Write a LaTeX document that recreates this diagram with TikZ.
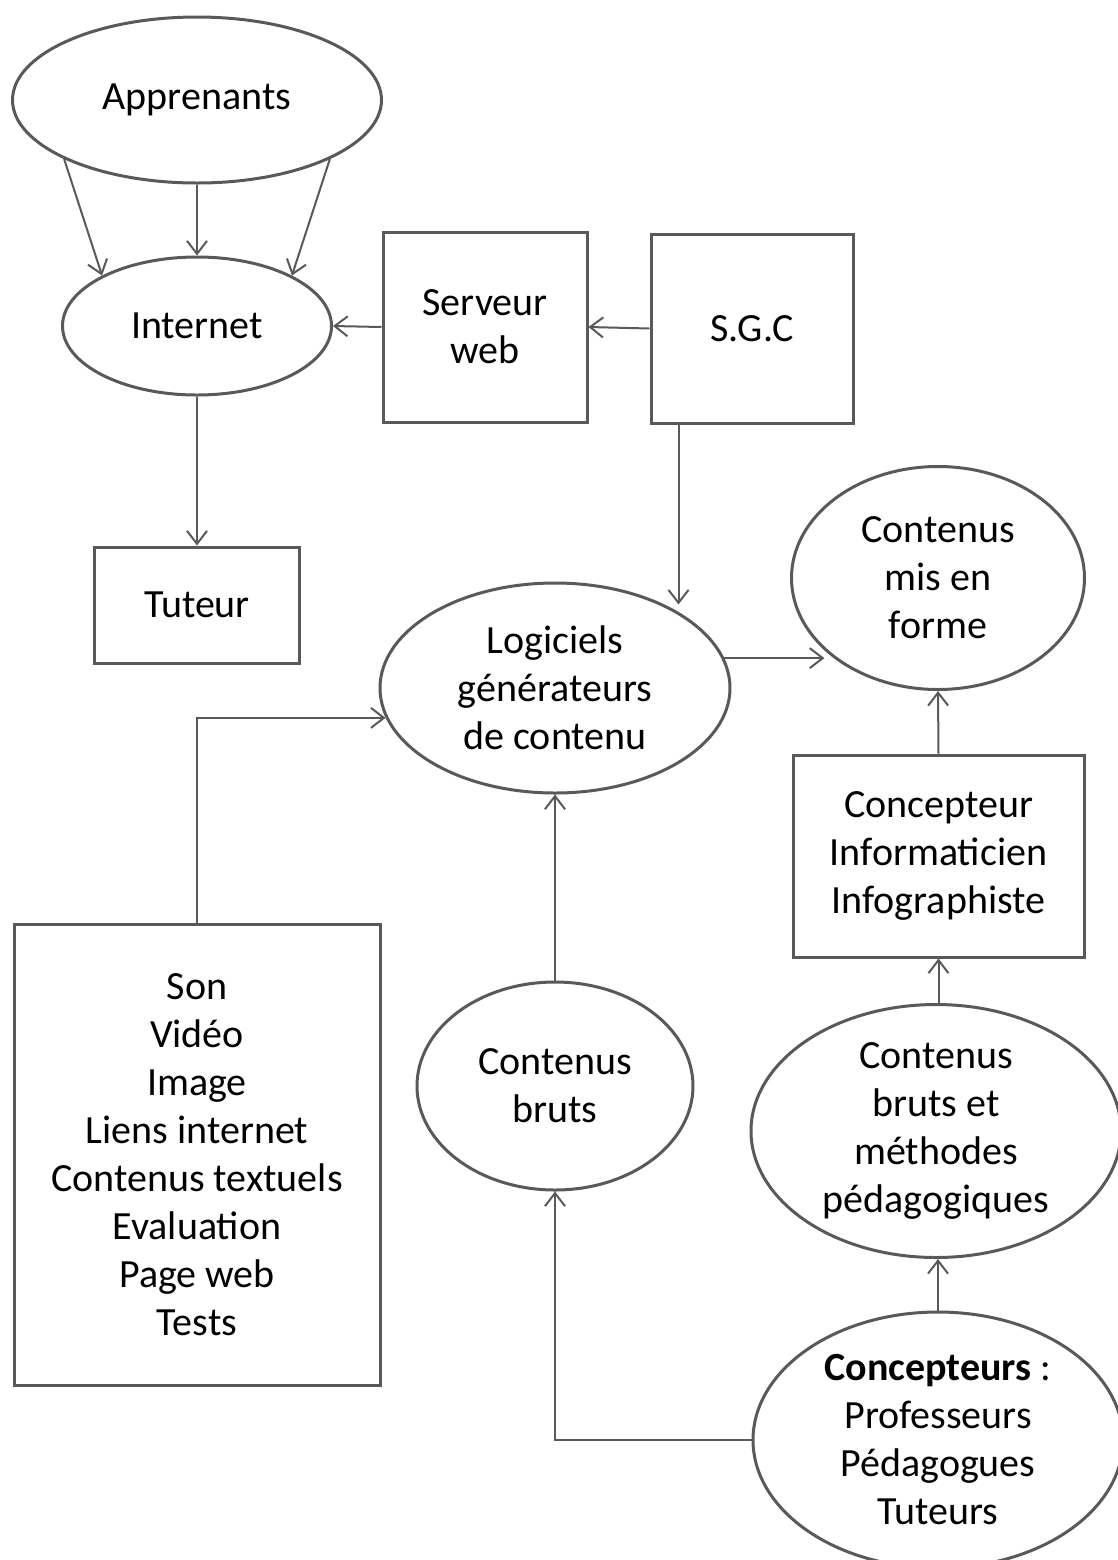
\documentclass[tikz,border=0pt]{standalone}
\usepackage{fontspec}
\setmainfont{Carlito}
\usepackage{xcolor}
\usepackage{tikz}
\usetikzlibrary{arrows.meta,positioning,shapes.geometric}
\definecolor{slate}{HTML}{595959}
\tikzset{
  base/.style={draw=slate,fill=white,line width=1.5pt,inner sep=0pt,align=center,font=\fontsize{20pt}{24pt}\selectfont},
  boxr/.style={base,rectangle},
  boxe/.style={base,ellipse},
  arr/.style={-{Straight Barb[length=6.5pt,width=10pt,line width=1pt]},line width=1pt,color=slate},
}
\begin{document}
\begin{tikzpicture}[x=0.5pt,y=-0.5pt]
\useasboundingbox (0,0) rectangle (1118,1560);
\node[boxe,minimum width=184.5pt,minimum height=83pt] (app) at (197,100) {Apprenants};
\node[boxe,minimum width=134.5pt,minimum height=69pt] (inet) at (197,326) {Internet};
\node[boxr,minimum width=102pt,minimum height=95pt] (serv) at (485,327) {Serveur\\ web};
\node[boxr,minimum width=101pt,minimum height=94.5pt] (sgc) at (752,328.5) {S.G.C};
\node[boxr,minimum width=102.5pt,minimum height=58pt] (tut) at (197,605) {Tuteur};
\node[boxe,minimum width=175pt,minimum height=105pt] (logi) at (555,688) {Logiciels\\ générateurs\\ de contenu};
\node[boxe,minimum width=146.5pt,minimum height=111.5pt] (mis) at (938,578) {Contenus\\ mis en\\ forme};
\node[boxr,minimum width=145.5pt,minimum height=101pt] (concI) at (938.5,856) {Concepteur\\ Informaticien\\ Infographiste};
\node[boxr,minimum width=183pt,minimum height=230.5pt] (son) at (197,1154.5) {Son\\ Vidéo\\ Image\\ Liens internet\\ Contenus textuels\\ Evaluation\\ Page web\\ Tests};
\node[boxe,minimum width=138pt,minimum height=104pt] (brut) at (555,1086) {Contenus\\ bruts};
\node[boxe,minimum width=185pt,minimum height=126.5pt] (meth) at (936,1131) {Contenus\\ bruts et\\ méthodes\\ pédagogiques};
\node[boxe,minimum width=185pt,minimum height=128pt] (conc) at (938,1440) {\textbf{Concepteurs} :\\ Professeurs\\ Pédagogues\\ Tuteurs};
\draw[arr](app.204)--(inet.152);\draw[arr](app.south)--(inet.north);\draw[arr](app.-24)--(inet.28);
\draw[arr](serv.west)--(inet.east);\draw[arr](sgc.west)--(serv.east);\draw[arr](inet.south)--(tut.north);
\draw[arr]([xshift=14.5pt]sgc.south west)--++(0,180);\draw[arr](logi.10.5)--++(100,0);
\draw[arr](concI.north)--(mis.south);\draw[arr](son.north)|-(logi.190.5);\draw[arr](brut.north)--(logi.south);
\draw[arr](concI.south |- meth.north)--(concI.south);\draw[arr](conc.north)--(conc.north |- meth.south);\draw[arr](conc.west)-|(brut.south);
\end{tikzpicture}
\end{document}
